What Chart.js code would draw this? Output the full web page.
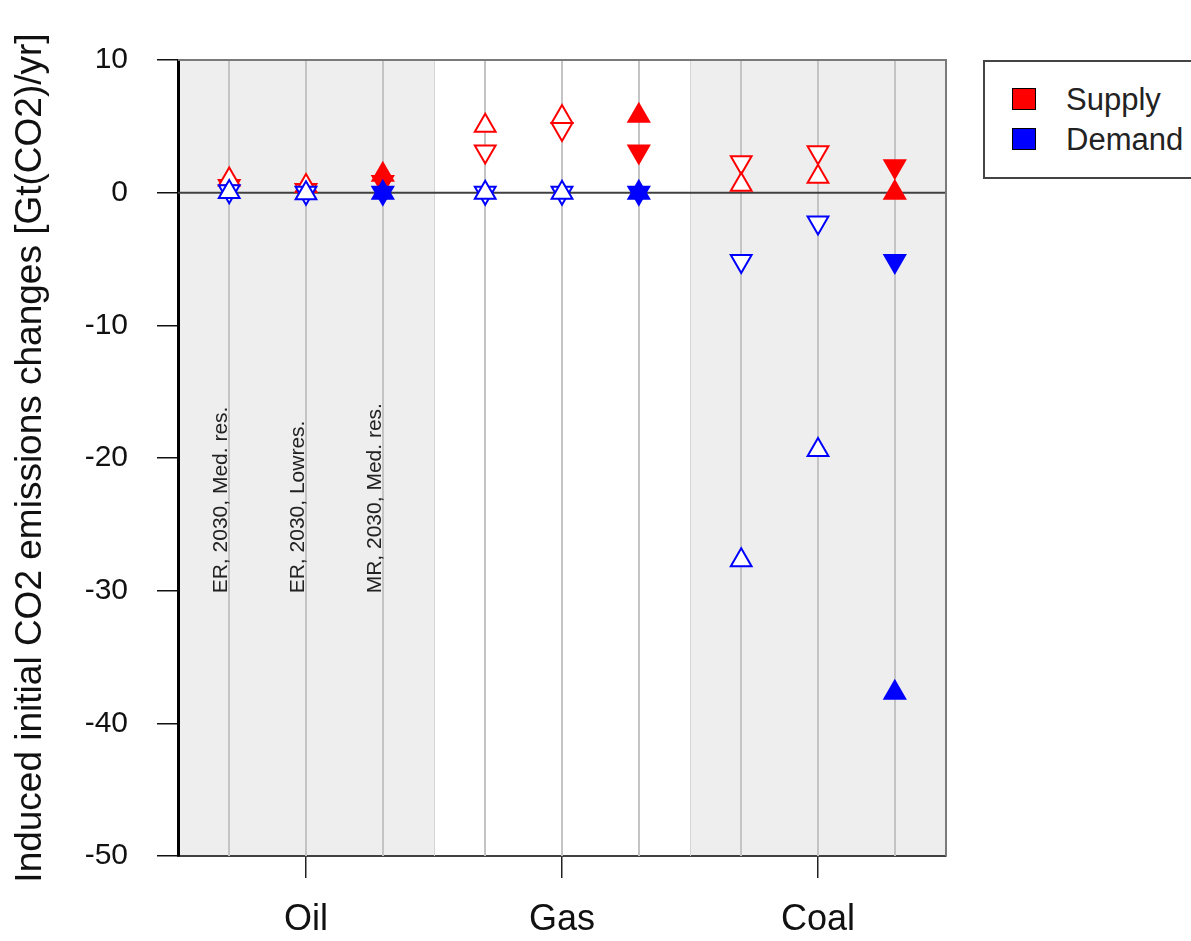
<!DOCTYPE html>
<html>
<head>
<meta charset="utf-8">
<title>Induced initial CO2 emissions changes</title>
<script src="https://cdn.jsdelivr.net/npm/chart.js@4.4.1/dist/chart.umd.min.js"></script>
<style>
  html, body { margin: 0; padding: 0; background: #fff; overflow: hidden; }
  #wrap { position: relative; width: 1191px; height: 941px; }
  #legend {
    position: absolute; left: 983px; top: 60px; width: 240px; height: 115px;
    border: 2px solid #444; background: #fff;
    font-family: "Liberation Sans", Arial, sans-serif; font-size: 31px; color: #222;
  }
  #legend .key { position: absolute; left: 27px; width: 22px; height: 20px; border: 1px solid #000; }
  #legend .lbl { position: absolute; left: 81px; line-height: 31px; white-space: nowrap; }
</style>
</head>
<body>
<div id="wrap">
  <canvas id="chart" width="1191" height="941"></canvas>
  <div id="legend">
    <div class="key" style="top:26px;background:#ff0000"></div>
    <div class="lbl" style="top:22px">Supply</div>
    <div class="key" style="top:66px;background:#0000ff"></div>
    <div class="lbl" style="top:62px">Demand</div>
  </div>
</div>
<script>
// ---------- data ----------

// three scenarios per fuel, placed on a 0..15 axis (5 units per fuel block)
const positions      = [1, 2.5, 4, 6, 7.5, 9, 11, 12.5, 14];
const fuels          = ["Oil", "Gas", "Coal"];
const fuelCenters    = [2.5, 7.5, 12.5];
const fuelBounds     = [0, 5, 10, 15];
const scenarioLabels = ["ER, 2030, Med. res.", "ER, 2030, Lowres.", "MR, 2030, Med. res."];
const filledMarkers  = [false, false, true, false, false, true, false, false, true];

// Gt(CO2)/yr
const supplyUp   = [1.0, 0.5, 1.35, 5.05, 5.7, 5.8, 0.6, 1.2, 0.0];
const supplyDown = [0.5, 0.2, 0.8, 3.1, 4.8, 3.1, 2.3, 3.05, 2.0];
const demandUp   = [0.05, -0.05, 0.0, 0.0, 0.0, 0.0, -27.7, -19.4, -37.7];
const demandDown = [0.1, 0.0, 0.0, 0.0, 0.0, 0.0, -5.15, -2.25, -5.15];

const yTicks = [10, 0, -10, -20, -30, -40, -50];

// ---------- styling ----------

const RED  = "#ff0000";
const BLUE = "#0000ff";
const SHADE = "#eeeeee";
const shadedFuel = [true, false, true];
const FONT = '"Liberation Sans", Arial, sans-serif';

Chart.defaults.font.family = FONT;
Chart.defaults.color = "#222";

function series(label, values, color, rotation) {
  return {
    label,
    data: values.map((v, i) => ({ x: positions[i], y: v })),
    showLine: false,
    pointStyle: "triangle",
    pointRotation: rotation,
    pointRadius: 12,
    pointHoverRadius: 12,
    pointBorderWidth: 2,
    pointBorderColor: color,
    pointBackgroundColor: filledMarkers.map(f => (f ? color : "#ffffff")),
  };
}

// first dataset ends up on top
const datasets = [
  series("Demand", demandUp, BLUE, 0),
  series("Demand", demandDown, BLUE, 180),
  series("Supply", supplyUp, RED, 0),
  series("Supply", supplyDown, RED, 180),
];

// shaded fuel blocks, scenario lines, zero line, frame and scenario captions
const backdrop = {
  id: "backdrop",
  beforeDraw(chart) {
    const { ctx, chartArea: a, scales: { x } } = chart;
    ctx.save();
    ctx.fillStyle = "#fff";
    ctx.fillRect(0, 0, chart.width, chart.height);
    ctx.fillStyle = SHADE;
    for (let i = 0; i < fuels.length; i++) {
      if (!shadedFuel[i]) continue;
      const x0 = x.getPixelForValue(fuelBounds[i]);
      const x1 = x.getPixelForValue(fuelBounds[i + 1]);
      ctx.fillRect(x0, a.top, x1 - x0, a.bottom - a.top);
    }
    ctx.restore();
  },
  beforeDatasetsDraw(chart) {
    const { ctx, chartArea: a, scales: { x, y } } = chart;
    ctx.save();

    // block dividers
    ctx.strokeStyle = "#d4d4d4";
    ctx.lineWidth = 1;
    for (const b of fuelBounds.slice(1, -1)) {
      const px = Math.round(x.getPixelForValue(b)) + 0.5;
      ctx.beginPath(); ctx.moveTo(px, a.top); ctx.lineTo(px, a.bottom); ctx.stroke();
    }

    // one line per scenario
    ctx.strokeStyle = "#c4c4c4";
    ctx.lineWidth = 2;
    for (const p of positions) {
      const px = Math.round(x.getPixelForValue(p));
      ctx.beginPath(); ctx.moveTo(px, a.top); ctx.lineTo(px, a.bottom); ctx.stroke();
    }

    // zero line
    const y0 = y.getPixelForValue(0);
    ctx.strokeStyle = "#404040";
    ctx.lineWidth = 2;
    ctx.beginPath(); ctx.moveTo(a.left, y0); ctx.lineTo(a.right, y0); ctx.stroke();

    // top and right of the box
    ctx.strokeStyle = "#7a7a7a";
    ctx.lineWidth = 2;
    ctx.beginPath();
    ctx.moveTo(a.left, a.top); ctx.lineTo(a.right, a.top); ctx.lineTo(a.right, a.bottom);
    ctx.stroke();

    // scenario captions, written upwards next to the oil lines
    ctx.fillStyle = "#222";
    ctx.font = "21px " + FONT;
    ctx.textAlign = "left";
    ctx.textBaseline = "middle";
    scenarioLabels.forEach((txt, i) => {
      ctx.save();
      ctx.translate(x.getPixelForValue(positions[i]) - 8, y.getPixelForValue(-30.2));
      ctx.rotate(-Math.PI / 2);
      ctx.fillText(txt, 0, 0);
      ctx.restore();
    });

    ctx.restore();
  },
};

new Chart(document.getElementById("chart"), {
  type: "scatter",
  data: { datasets },
  plugins: [backdrop],
  options: {
    responsive: false,
    animation: false,
    events: [],
    layout: { padding: { top: 60, right: 245, left: 0, bottom: 0 } },
    plugins: {
      legend: { display: false },
      tooltip: { enabled: false },
    },
    scales: {
      x: {
        type: "linear",
        min: 0,
        max: 15,
        afterBuildTicks: s => { s.ticks = fuelCenters.map(v => ({ value: v })); },
        afterFit: s => { s.height = 85; },
        ticks: {
          padding: 20,
          color: "#111",
          font: { size: 36 },
          callback: v => fuels[fuelCenters.indexOf(v)] ?? "",
        },
        grid: { drawOnChartArea: false, drawTicks: true, tickLength: 22, color: "#222", lineWidth: 1.5 },
        border: { display: true, color: "#404040", width: 2 },
      },
      y: {
        min: -50,
        max: 10,
        afterBuildTicks: s => { s.ticks = yTicks.map(v => ({ value: v })); },
        afterFit: s => { s.width = 178; },
        ticks: { padding: 29, color: "#111", font: { size: 30 } },
        grid: { drawOnChartArea: false, drawTicks: true, tickLength: 21, color: "#111", lineWidth: 1.5 },
        border: { display: true, color: "#000", width: 3 },
        title: {
          display: true,
          text: "Induced initial CO2 emissions changes [Gt(CO2)/yr]",
          color: "#111",
          font: { size: 37 },
          padding: { top: 9, bottom: 0 },
        },
      },
    },
  },
});
</script>
</body>
</html>
